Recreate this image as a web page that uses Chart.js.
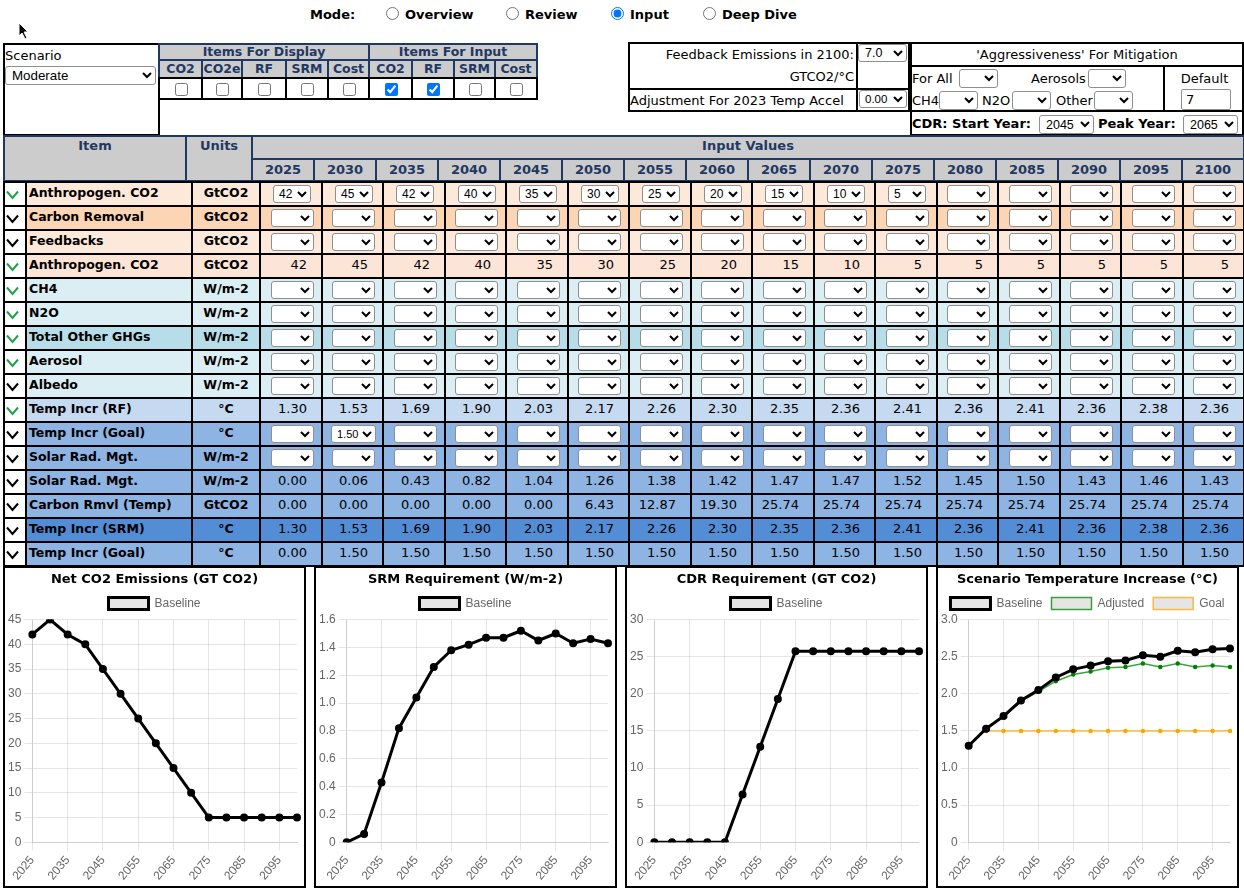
<!DOCTYPE html>
<html>
<head>
<meta charset="utf-8">
<script src="https://cdn.jsdelivr.net/npm/chart.js@4.4.1/dist/chart.umd.min.js"></script>
<style>
  body { margin:0; width:1244px; height:892px; overflow:hidden; background:#fff;
         font-family:"DejaVu Sans", Verdana, sans-serif; font-size:13px; color:#000; position:relative; }
  .cell { position:absolute; box-sizing:border-box; border:2px solid #000; overflow:hidden; }
  .hdr { background:#cccccc; color:#1f3864; font-weight:bold; border-color:#1f3864; text-align:center; }
  select { font-family:"Liberation Sans", Arial, sans-serif; font-size:13.33px; background:#fff;
           border:1px solid #8f8f8f; border-radius:3px; padding:0 0 0 2px; margin:0; color:#000; box-sizing:border-box; }
  .tsel { position:absolute; font-size:12px; height:18px; padding-left:1px; }
  input[type=checkbox], input[type=radio] { margin:0; position:absolute; }
  .chartbox { position:absolute; top:566px; width:303px; height:322px; border:2px solid #000; box-sizing:border-box; background:#fff; }
  .chartbox div { position:absolute; left:0; top:0; right:0; bottom:0; }
</style>
</head>
<body>
<div id="page"></div>
<script>
// ---- data ----
var years = [2025,2030,2035,2040,2045,2050,2055,2060,2065,2070,2075,2080,2085,2090,2095,2100];
var co2Input = [42,45,42,40,35,30,25,20,15,10,5,null,null,null,null,null];
var netCO2 = [42,45,42,40,35,30,25,20,15,10,5,5,5,5,5,5];
var tempRF = [1.30,1.53,1.69,1.90,2.03,2.17,2.26,2.30,2.35,2.36,2.41,2.36,2.41,2.36,2.38,2.36];
var goalInput = [null,'1.50',null,null,null,null,null,null,null,null,null,null,null,null,null,null];
var srm = [0.00,0.06,0.43,0.82,1.04,1.26,1.38,1.42,1.47,1.47,1.52,1.45,1.50,1.43,1.46,1.43];
var cdr = [0.00,0.00,0.00,0.00,0.00,6.43,12.87,19.30,25.74,25.74,25.74,25.74,25.74,25.74,25.74,25.74];
var tempSRM = [1.30,1.53,1.69,1.90,2.03,2.17,2.26,2.30,2.35,2.36,2.41,2.36,2.41,2.36,2.38,2.36];
var tempGoal = [0.00,1.50,1.50,1.50,1.50,1.50,1.50,1.50,1.50,1.50,1.50,1.50,1.50,1.50,1.50,1.50];
var baselineTemp = [1.30,1.53,1.70,1.91,2.05,2.22,2.33,2.38,2.44,2.45,2.52,2.50,2.58,2.56,2.60,2.61];
var goalLine = [null,1.5,1.5,1.5,1.5,1.5,1.5,1.5,1.5,1.5,1.5,1.5,1.5,1.5,1.5,1.5];

var page = document.getElementById('page');

function el(tag, css, html) {
  var e = document.createElement(tag);
  e.style.cssText = css;
  if (html != null) e.innerHTML = html;
  page.appendChild(e);
  return e;
}
function cell(x0, y0, x1, y1, cls, css, html) {
  var e = el('div', 'left:'+x0+'px;top:'+y0+'px;width:'+(x1-x0+2)+'px;height:'+(y1-y0+2)+'px;' + (css||''), html);
  e.className = 'cell ' + (cls||'');
  return e;
}
function text(x, y, s, css) {
  return el('div', 'position:absolute;left:'+x+'px;top:'+y+'px;white-space:nowrap;line-height:15px;' + (css||''), s);
}
function sel(x, y, w, h, val, extra) {
  var s = el('select', 'position:absolute;left:'+x+'px;top:'+y+'px;width:'+w+'px;height:'+h+'px;' + (extra||''));
  var o = document.createElement('option');
  o.textContent = val == null ? '' : val;
  s.appendChild(o);
  return s;
}

// cursor
el('div', 'position:absolute;left:18px;top:22px;',
  '<svg width="12" height="18"><polygon points="1,1 1,14 4,11 7,17 9,16 6,10 10,10" fill="#000" stroke="#fff" stroke-width="1"/></svg>');

// ---- mode line ----
text(310, 7, 'Mode:', 'font-weight:bold');
var modes = [['Overview',386],['Review',506],['Input',611],['Deep Dive',703]];
modes.forEach(function(m){
  var r = document.createElement('input'); r.type = 'radio'; r.name = 'mode';
  r.style.cssText = 'left:'+m[1]+'px;top:7px;width:13px;height:13px;';
  if (m[0] === 'Input') r.checked = true;
  page.appendChild(r);
  text(m[1]+19, 7, m[0], 'font-weight:bold');
});

// ---- scenario ----
cell(3, 43, 158, 134, '', 'background:#fff');
text(5, 48, 'Scenario');
sel(5, 66, 151, 19, 'Moderate');

// ---- items table ----
var itemX = [158,201,241,285,327,368,411,453,494,536];
var itemLbl = ['CO2','CO2e','RF','SRM','Cost','CO2','RF','SRM','Cost'];
var itemChk = [false,false,false,false,false,true,true,false,false];
cell(158, 43, 368, 59, 'hdr', 'font-size:12.5px;line-height:14px;', 'Items For Display');
cell(368, 43, 536, 59, 'hdr', 'font-size:12.5px;line-height:14px;', 'Items For Input');
for (var i = 0; i < 9; i++) {
  cell(itemX[i], 59, itemX[i+1], 77, 'hdr', 'font-size:12.5px;line-height:15px;', itemLbl[i]);
}
for (var i = 0; i < 9; i++) {
  cell(itemX[i], 77, itemX[i+1], 98, '', 'background:#fff');
  var c = document.createElement('input'); c.type = 'checkbox'; c.checked = itemChk[i];
  c.style.cssText = 'left:'+Math.round((itemX[i]+itemX[i+1])/2 - 5)+'px;top:83px;width:13px;height:13px;';
  page.appendChild(c);
}

// ---- feedback box ----
cell(628, 42, 856, 88, '', 'background:#fff');
cell(856, 42, 908, 88, '', 'background:#fff');
cell(628, 88, 856, 110, '', 'background:#fff');
cell(856, 88, 908, 110, '', 'background:#fff');
text(630, 47, 'Feedback Emissions in 2100:', 'width:224px;text-align:right;');
text(630, 69, 'GTCO2/°C', 'width:224px;text-align:right;');
sel(858, 44, 49, 18, '7.0', 'font-size:12.5px;');
text(630, 93, 'Adjustment For 2023 Temp Accel');
sel(859, 90, 48, 18, '0.00', 'font-size:11.5px;padding-left:1px;');

// ---- aggressiveness box ----
cell(910, 42, 1242, 65, '', 'background:#fff');
cell(910, 65, 1163, 110, '', 'background:#fff');
cell(1163, 65, 1242, 110, '', 'background:#fff');
cell(910, 110, 1242, 134, '', 'background:#fff');
text(910, 47, "'Aggressiveness' For Mitigation", 'width:334px;text-align:center;');
text(912, 71, 'For All');
sel(959, 69, 39, 19, '');
text(1031, 71, 'Aerosols');
sel(1088, 69, 38, 19, '');
text(912, 93, 'CH4');
sel(939, 91, 39, 19, '');
text(982, 93, 'N2O');
sel(1012, 91, 39, 19, '');
text(1056, 93, 'Other');
sel(1094, 91, 39, 19, '');
text(1165, 71, 'Default', 'width:79px;text-align:center;');
el('input', 'position:absolute;left:1181px;top:89px;width:50px;height:21px;box-sizing:border-box;border:1px solid #8f8f8f;border-radius:2px;font-family:DejaVu Sans;font-size:13px;padding:0 4px;').value = '7';
text(912, 116, 'CDR: Start Year:', 'font-weight:bold');
sel(1039, 115, 55, 19, '2045', 'font-size:12.5px;');
text(1098, 116, 'Peak Year:', 'font-weight:bold');
sel(1183, 115, 55, 19, '2065', 'font-size:12.5px;');

// ---- main table header ----
cell(3, 135, 185, 180, 'hdr', 'line-height:18px;', 'Item');
cell(185, 135, 251, 180, 'hdr', 'line-height:18px;', 'Units');
cell(251, 135, 1243, 158, 'hdr', 'line-height:18px;', 'Input Values');
for (var k = 0; k < years.length; k++) {
  cell(251 + 62*k, 158, 251 + 62*(k+1), 180, 'hdr', 'line-height:19px;', String(years[k]));
}

// ---- main table rows ----
var rows = [
  ['Anthropogen. CO2', 'GtCO2', '#fde9d9', true,  'sel', co2Input],
  ['Carbon Removal',   'GtCO2', '#fcd5b4', false, 'sel', null],
  ['Feedbacks',        'GtCO2', '#fde9d9', false, 'sel', null],
  ['Anthropogen. CO2', 'GtCO2', '#fce4d6', true,  'int', netCO2],
  ['CH4',              'W/m-2', '#daeef3', true,  'sel', null],
  ['N2O',              'W/m-2', '#daeef3', true,  'sel', null],
  ['Total Other GHGs', 'W/m-2', '#b7dee8', true,  'sel', null],
  ['Aerosol',          'W/m-2', '#daeef3', true,  'sel', null],
  ['Albedo',           'W/m-2', '#daeef3', false, 'sel', null],
  ['Temp Incr (RF)',   '°C',    '#c5d9f1', true,  'num', tempRF],
  ['Temp Incr (Goal)', '°C',    '#8db4e2', false, 'sel', goalInput],
  ['Solar Rad. Mgt.',  'W/m-2', '#8db4e2', false, 'sel', null],
  ['Solar Rad. Mgt.',  'W/m-2', '#8db4e2', false, 'num', srm],
  ['Carbon Rmvl (Temp)','GtCO2','#8db4e2', false, 'num', cdr],
  ['Temp Incr (SRM)',  '°C',    '#538dd5', false, 'num', tempSRM],
  ['Temp Incr (Goal)', '°C',    '#8db4e2', false, 'num', tempGoal]
];
var colX = [];
for (var k = 0; k <= 16; k++) colX.push(Math.round(259 + 61.5*k));

rows.forEach(function(r, i) {
  var y0 = 181 + 24*i, y1 = y0 + 24;
  var chev = r[3] ? '#1fa34a' : '#000';
  cell(3, y0, 25, y1, '', 'background:#fff',
    '<svg width="14" height="10" style="position:absolute;left:1px;top:7px"><polyline points="1,1.5 6.5,8 12,1.5" fill="none" stroke="'+chev+'" stroke-width="2"/></svg>');
  cell(25, y0, 191, y1, '', 'background:'+r[2]+';font-weight:bold;font-size:12.5px;line-height:20px;padding-left:2px;', r[0]);
  cell(191, y0, 259, y1, '', 'background:'+r[2]+';font-weight:bold;font-size:12.5px;line-height:20px;text-align:center;', r[1]);
  for (var k = 0; k < 16; k++) {
    var x0 = colX[k], x1 = colX[k+1];
    var c = cell(x0, y0, x1, y1, '', 'background:'+r[2]+';line-height:20px;text-align:right;padding-right:14px;');
    if (r[4] === 'sel') {
      var v = r[5] ? r[5][k] : null;
      var w = v == null ? 43 : 38;
      var extra = '';
      if (r[5] === goalInput && v != null) { w = 45; extra = 'font-size:11px;'; }
      var s = sel(Math.round((x0 + x1)/2 - w/2 + 2), y0 + 4, w, 18, v, extra);
      s.className = 'tsel';
    } else if (r[4] === 'int') {
      c.textContent = r[5][k];
    } else {
      c.textContent = r[5][k].toFixed(2);
    }
  }
});

// ---- charts ----
var boxX = [3, 314, 625, 936];
function makeChart(n, title, datasets, yMax, yStep) {
  var box = el('div', 'left:'+boxX[n]+'px;');
  box.className = 'chartbox';
  var inner = document.createElement('div');
  var cv = document.createElement('canvas');
  inner.appendChild(cv);
  box.appendChild(inner);
  new Chart(cv, {
    type: 'line',
    data: { labels: years.map(String), datasets: datasets },
    options: {
      responsive: true,
      maintainAspectRatio: false,
      animation: false,
      plugins: {
        title: { display: true, text: title, color: '#000',
                 font: { family: '"DejaVu Sans", Verdana, sans-serif', size: 13, weight: 'bold' },
                 padding: { top: 4, bottom: 1 } },
        legend: { labels: { boxWidth: 40, color: '#666', padding: 9, font: { size: 12 } } },
        tooltip: { enabled: false }
      },
      scales: {
        x: { ticks: { autoSkip: false, minRotation: 50, maxRotation: 50, color: '#666',
                      callback: function(v, i) { return i % 2 === 0 ? this.getLabelForValue(v) : null; } } },
        y: { min: 0, max: yMax, ticks: { stepSize: yStep, color: '#666' } }
      }
    }
  });
}
function baseline(data) {
  return { label: 'Baseline', data: data, borderColor: '#000', backgroundColor: 'rgba(0,0,0,0.1)',
           borderWidth: 3, pointRadius: 2.5, pointBackgroundColor: '#000', pointBorderColor: '#000', tension: 0 };
}

makeChart(0, 'Net CO2 Emissions (GT CO2)', [baseline(netCO2)], 45, 5);
makeChart(1, 'SRM Requirement (W/m-2)', [baseline(srm)], 1.6, 0.2);
makeChart(2, 'CDR Requirement (GT CO2)', [baseline(cdr)], 30, 5);
makeChart(3, 'Scenario Temperature Increase (\u00B0C)', [
  baseline(baselineTemp),
  { label: 'Adjusted', data: tempRF, borderColor: 'rgba(0,128,0,0.75)', backgroundColor: 'rgba(0,0,0,0.1)',
    borderWidth: 1.5, pointRadius: 1.5, pointBackgroundColor: 'green', pointBorderColor: 'green' },
  { label: 'Goal', data: goalLine, borderColor: 'rgba(255,165,0,0.75)', backgroundColor: 'rgba(0,0,0,0.1)',
    borderWidth: 1.5, pointRadius: 1.5, pointBackgroundColor: 'orange', pointBorderColor: 'orange' }
], 3, 0.5);
</script>
</body>
</html>
